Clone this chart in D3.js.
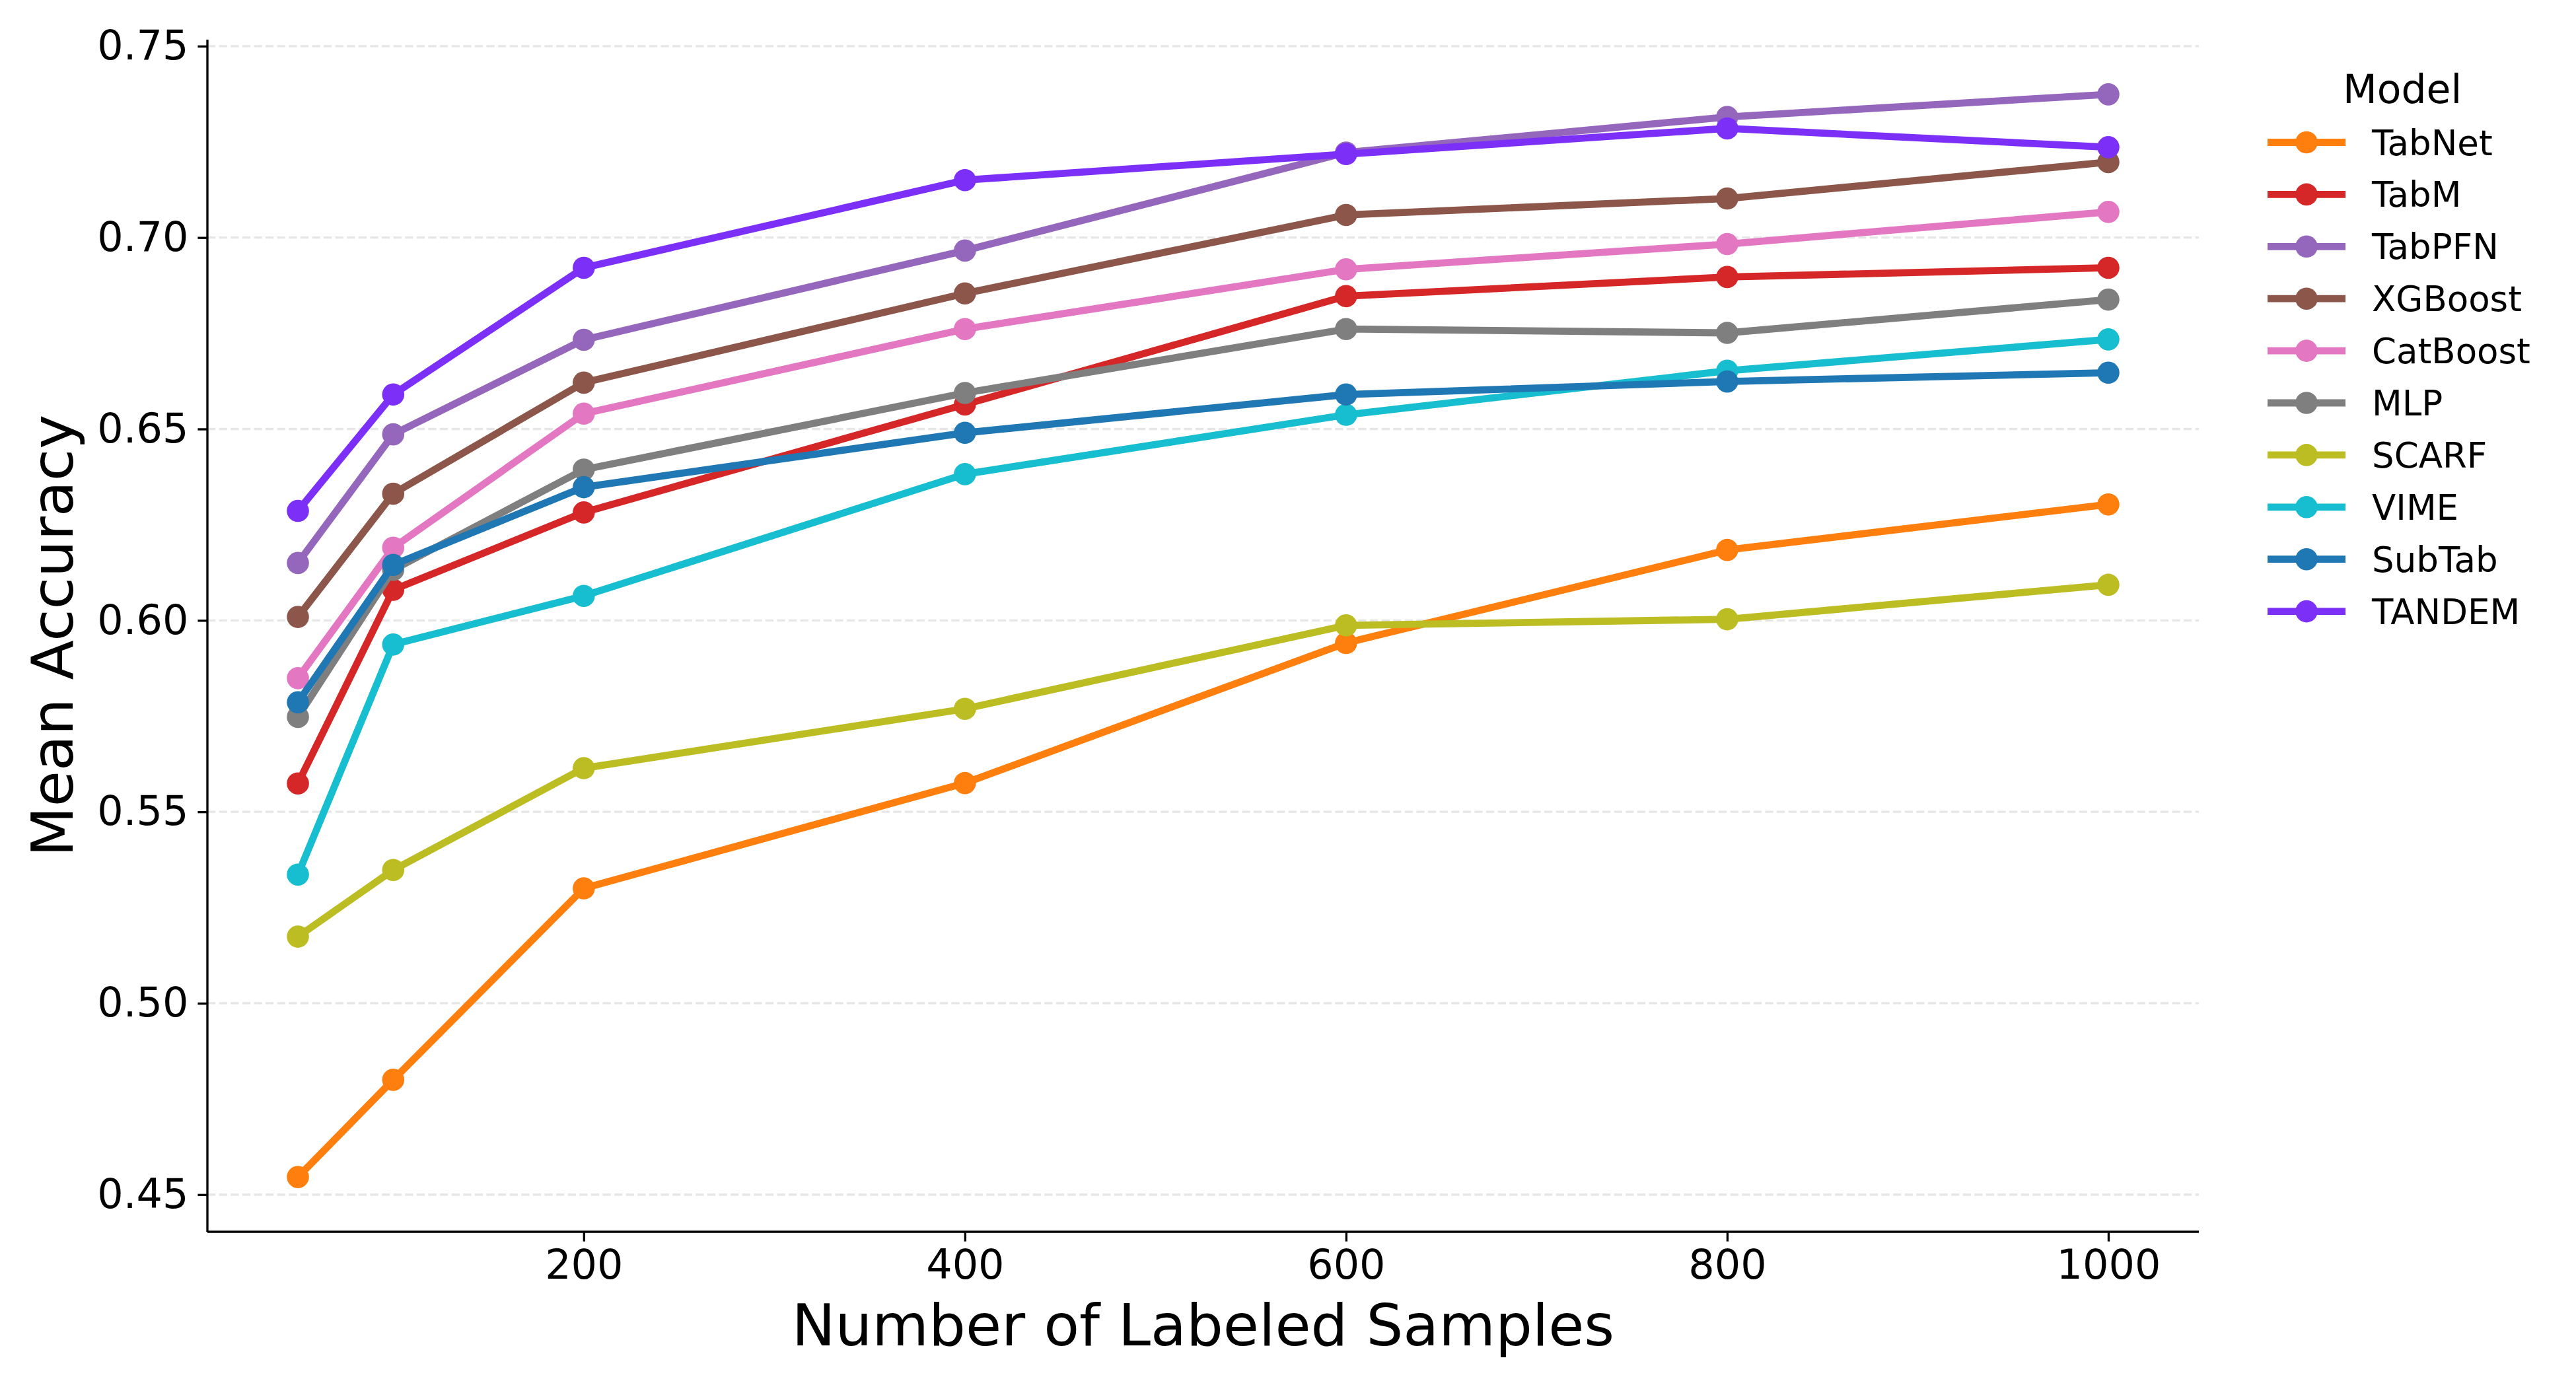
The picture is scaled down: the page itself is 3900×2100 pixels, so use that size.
<!DOCTYPE html>
<html>
<head>
<meta charset="utf-8">
<script src="https://cdn.jsdelivr.net/npm/d3@7"></script>
<style>
  body { margin: 0; background: #fff; }
  svg text { font-family: "DejaVu Sans", sans-serif; fill: #000; }
</style>
</head>
<body>
<div class="chart"></div>
<script>
// samples on x axis
var samples = [50, 100, 200, 400, 600, 800, 1000];

// one array per model
var tabnet   = [0.4546, 0.480, 0.5300, 0.5575, 0.5941, 0.6184, 0.6303];
var tabm     = [0.5574, 0.608, 0.6282, 0.6564, 0.6847, 0.6897, 0.6921];
var tabpfn   = [0.6150, 0.6486, 0.6733, 0.6966, 0.7222, 0.7315, 0.7374];
var xgboost  = [0.6009, 0.6331, 0.6621, 0.6854, 0.7059, 0.7102, 0.7197];
var catboost = [0.5849, 0.6190, 0.6540, 0.6761, 0.6917, 0.6983, 0.7067];
var mlp      = [0.5748, 0.6132, 0.6394, 0.6594, 0.6761, 0.6751, 0.6838];
var scarf    = [0.5174, 0.5348, 0.5614, 0.5769, 0.5987, 0.6003, 0.6093];
var vime     = [0.5336, 0.5937, 0.6064, 0.6382, 0.6537, 0.6652, 0.6734];
var subtab   = [0.5786, 0.6145, 0.6348, 0.6490, 0.6590, 0.6624, 0.6647];
var tandem   = [0.6286, 0.6590, 0.6921, 0.7150, 0.7218, 0.7285, 0.7236];

var models = ["TabNet", "TabM", "TabPFN", "XGBoost", "CatBoost", "MLP", "SCARF", "VIME", "SubTab", "TANDEM"];
var values = [tabnet, tabm, tabpfn, xgboost, catboost, mlp, scarf, vime, subtab, tandem];
var colors = ["#ff7f0e", "#d62728", "#9467bd", "#8c564b", "#e377c2", "#7f7f7f", "#bcbd22", "#17becf", "#1f77b4", "#7b2ff7"];

var xTicks = [200, 400, 600, 800, 1000];
var yTicks = [0.45, 0.50, 0.55, 0.60, 0.65, 0.70, 0.75];

var W = 3900, H = 2100;
var margin = {top: 60, right: 571, bottom: 235, left: 314};
var width = W - margin.left - margin.right,
    height = H - margin.top - margin.bottom;

var svg = d3.select(".chart").append("svg")
    .attr("width", W)
    .attr("height", H)
  .append("g")
    .attr("transform", "translate(" + margin.left + "," + margin.top + ")");

var x = d3.scaleLinear().domain([2.5, 1047.5]).range([0, width]);
var y = d3.scaleLinear().domain([0.4403, 0.7517]).range([height, 0]);

// horizontal dashed grid
svg.append("g")
    .selectAll("line")
    .data(yTicks)
    .enter().append("line")
    .attr("x1", 0)
    .attr("x2", width)
    .attr("y1", function (d) { return y(d); })
    .attr("y2", function (d) { return y(d); })
    .attr("stroke", "#e6e6e6")
    .attr("stroke-width", 3.3)
    .attr("stroke-dasharray", "12.3,5.3");

// axes
var xAxis = svg.append("g")
    .attr("transform", "translate(0," + height + ")")
    .call(d3.axisBottom(x).tickValues(xTicks).tickSize(14.6).tickPadding(12).tickFormat(d3.format("d")));
var yAxis = svg.append("g")
    .call(d3.axisLeft(y).tickValues(yTicks).tickSize(14.6).tickPadding(14).tickFormat(d3.format(".2f")));

[xAxis, yAxis].forEach(function (a) {
    a.select(".domain").attr("stroke", "#000").attr("stroke-width", 3.33);
    a.selectAll(".tick line").attr("stroke", "#000").attr("stroke-width", 3.33);
    a.selectAll(".tick text").style("font-size", "62px").attr("fill", "#000");
});
// remove the outer tick stubs d3 draws at the ends of the domain path
xAxis.select(".domain").attr("d", "M0,0H" + width);
yAxis.select(".domain").attr("d", "M0," + height + "V0");

// lines and markers
var line = d3.line()
    .x(function (d, i) { return x(samples[i]); })
    .y(function (d) { return y(d); });

models.forEach(function (m, k) {
    var g = svg.append("g").attr("class", "series");
    g.append("path")
        .datum(values[k])
        .attr("d", line)
        .attr("fill", "none")
        .attr("stroke", colors[k])
        .attr("stroke-width", 10.8)
        .attr("stroke-linejoin", "round")
        .attr("stroke-linecap", "butt");
    g.selectAll("circle")
        .data(values[k])
        .enter().append("circle")
        .attr("cx", function (d, i) { return x(samples[i]); })
        .attr("cy", function (d) { return y(d); })
        .attr("r", 16.8)
        .attr("fill", colors[k]);
});

// axis titles
svg.append("text")
    .attr("x", width / 2)
    .attr("y", 2037 - margin.top)
    .attr("text-anchor", "middle")
    .style("font-size", "88px")
    .text("Number of Labeled Samples");

svg.append("text")
    .attr("transform", "translate(" + (110 - margin.left) + "," + (height / 2) + ") rotate(-90)")
    .attr("text-anchor", "middle")
    .style("font-size", "88px")
    .text("Mean Accuracy");

// legend
var legend = d3.select("svg").append("g").attr("class", "legend");
legend.append("text")
    .attr("x", 3637)
    .attr("y", 156)
    .attr("text-anchor", "middle")
    .style("font-size", "60px")
    .text("Model");

var rows = legend.selectAll(".row")
    .data(models)
    .enter().append("g")
    .attr("class", "row")
    .attr("transform", function (d, i) { return "translate(0," + (215.5 + i * 78.9) + ")"; });
rows.append("line")
    .attr("x1", 3433).attr("x2", 3551)
    .attr("stroke", function (d, i) { return colors[i]; })
    .attr("stroke-width", 10.8);
rows.append("circle")
    .attr("cx", 3492)
    .attr("r", 16.8)
    .attr("fill", function (d, i) { return colors[i]; });
rows.append("text")
    .attr("x", 3591)
    .attr("dy", "0.36em")
    .style("font-size", "53px")
    .text(function (d) { return d; });
</script>
</body>
</html>
